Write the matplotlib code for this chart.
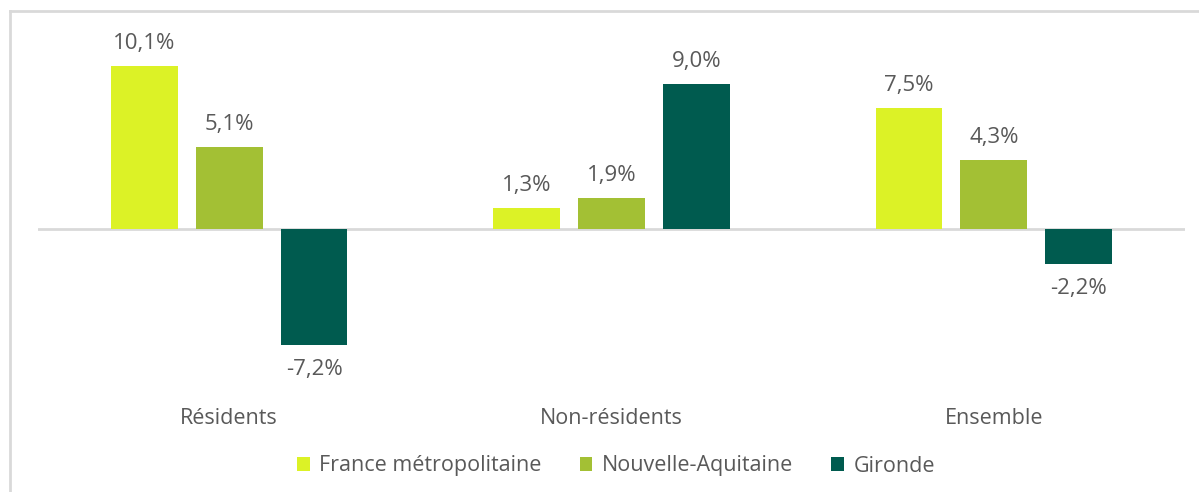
import numpy as np
import matplotlib
matplotlib.use("Agg")
import matplotlib.pyplot as plt
from matplotlib.lines import Line2D
from matplotlib.patches import Patch

categories = ["Résidents", "Non-résidents", "Ensemble"]
series_names = ["France métropolitaine", "Nouvelle-Aquitaine", "Gironde"]
france = [10.1, 1.3, 7.5]
nouvelle_aquitaine = [5.1, 1.9, 4.3]
gironde = [-7.2, 9.0, -2.2]
colors = ["#DCF226", "#A3C034", "#005B4F"]

plt.rcParams["font.family"] = ["Open Sans", "DejaVu Sans"]
text_color = "#595959"

W, H = 1199, 492
fig = plt.figure(figsize=(W / 100, H / 100), dpi=100)

# plot area in pixels: x 38..1185, zero at y=229, 16.1 px per %
y_min, y_max = -10, 12
px_per = 16.1
x0, x1 = 38, 1185
top = 229 - y_max * px_per
height = (y_max - y_min) * px_per
ax = fig.add_axes([x0 / W, 1 - (top + height) / H, (x1 - x0) / W, height / H])
ax.set_xlim(-0.5, 2.5)
ax.set_ylim(y_min, y_max)
ax.axis("off")

x = np.arange(len(categories))
width = 0.175
step = 0.222
for i, (vals, name, col) in enumerate(zip([france, nouvelle_aquitaine, gironde], series_names, colors)):
    xs = x + (i - 1) * step
    ax.bar(xs, vals, width=width, color=col, zorder=2)
    for xi, v in zip(xs, vals):
        off = 1.4 if v >= 0 else -1.5
        ax.text(xi, v + off, f"{v:.1f}%".replace(".", ","), ha="center", va="center",
                fontsize=16, color=text_color)

ax.axhline(0, color="#D9D9D9", lw=2, zorder=1)

for xi, c in zip(x, categories):
    ax.text(xi, (229 - 418) / px_per, c, ha="center", va="center", fontsize=15.5, color=text_color)

handles = [Patch(facecolor=c, edgecolor="none") for c in colors]
fig.legend(handles, series_names, loc="center", bbox_to_anchor=(616 / W, 1 - 466 / H),
           ncol=3, frameon=False, fontsize=15.5, labelcolor=text_color,
           handlelength=0.6, handleheight=0.6, handletextpad=0.45, columnspacing=1.75)

# outer frame of the chart (top and left edges visible)
fig.add_artist(Line2D([10 / W, 1], [1 - 11 / H, 1 - 11 / H], color="#D9D9D9", lw=2))
fig.add_artist(Line2D([10 / W, 10 / W], [0, 1 - 11 / H], color="#D9D9D9", lw=2))

fig.savefig("out.png", dpi=100)
